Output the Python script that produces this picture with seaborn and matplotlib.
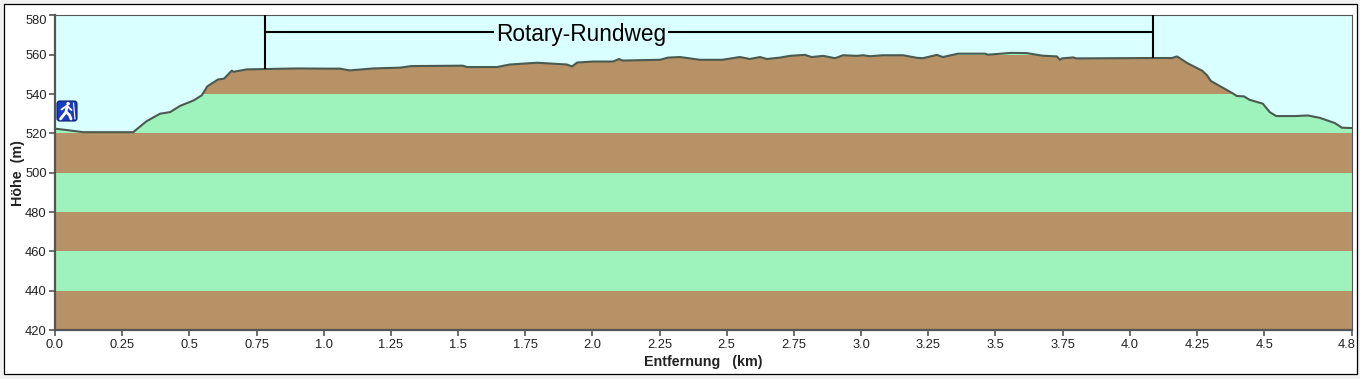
import numpy as np
import pandas as pd
import matplotlib
matplotlib.use('Agg')
import matplotlib.pyplot as plt
from matplotlib.patches import Rectangle, FancyBboxPatch
from matplotlib.transforms import ScaledTranslation
import seaborn as sns

# Hoehenprofil
dist_km = [0.0, 0.05, 0.106, 0.201, 0.292, 0.298, 0.341, 0.391, 0.428, 0.466, 0.515, 0.546, 0.567, 0.607,
           0.629, 0.658, 0.664, 0.713, 0.784, 0.905, 1.006, 1.061, 1.096, 1.184, 1.284, 1.327, 1.518, 1.533, 1.645,
           1.693, 1.794, 1.905, 1.924, 1.943, 2.001, 2.077, 2.099, 2.112, 2.252, 2.281, 2.326, 2.400,
           2.484, 2.549, 2.586, 2.624, 2.649, 2.698, 2.735, 2.791, 2.816, 2.859, 2.903, 2.933, 2.985,
           3.007, 3.033, 3.081, 3.156, 3.208, 3.230, 3.282, 3.304, 3.361, 3.461, 3.472, 3.560, 3.616,
           3.674, 3.729, 3.740, 3.747, 3.789, 3.801, 4.087, 4.157, 4.176, 4.214, 4.269, 4.287, 4.302,
           4.385, 4.398, 4.425, 4.445, 4.495, 4.521, 4.545, 4.615, 4.663, 4.707, 4.764, 4.789, 4.827]
hoehe_m = [522.4, 521.6, 520.6, 520.6, 520.6, 521.4, 526.2, 530, 530.8, 534, 536.7, 539.3, 543.9, 547.4,
           547.8, 551.9, 551.3, 552.5, 552.7, 553.0, 552.9, 552.9, 552, 553, 553.4, 554.2, 554.4, 553.7, 553.7,
           555, 555.9, 555, 554, 556, 556.5, 556.5, 557.8, 557, 557.4, 558.5, 558.8, 557.4,
           557.4, 558.8, 557.8, 558.8, 557.8, 558.5, 559.4, 559.9, 558.8, 559.4, 558.2, 559.7, 559.4,
           559.7, 559.2, 559.7, 559.7, 558.4, 558.2, 559.9, 558.8, 560.5, 560.5, 560, 560.9, 560.8,
           559.5, 559.1, 557.4, 558.1, 558.6, 558.1, 558.3, 558.3, 559.1, 555.7, 551.9, 549.6, 546.6,
           540.2, 539, 538.8, 537.1, 535.1, 530.8, 528.8, 528.8, 529.1, 527.9, 525.2, 522.9, 522.7]

# last tick sits at the true track length, the label rounds it
track_end = 4.827
x_ticks = [0.0, 0.25, 0.5, 0.75, 1.0, 1.25, 1.5, 1.75, 2.0, 2.25, 2.5, 2.75, 3.0, 3.25, 3.5, 3.75, 4.0, 4.25, 4.5, track_end]
x_labels = ['0.0', '0.25', '0.5', '0.75', '1.0', '1.25', '1.5', '1.75', '2.0', '2.25', '2.5', '2.75',
            '3.0', '3.25', '3.5', '3.75', '4.0', '4.25', '4.5', '4.8']
y_ticks = [420, 440, 460, 480, 500, 520, 540, 560, 580]
route_name = 'Rotary-Rundweg'
route_start = 0.781
route_end = 4.087
route_level = 571.3
route_label_x = 1.958

brown = '#B79266'
green = '#9EF3BC'
sky = '#D9FFFF'
edge = '#555555'

sns.set_theme(style='white')
plt.rcParams['font.family'] = ['Liberation Sans', 'DejaVu Sans']

W, H = 1360, 379
fig = plt.figure(figsize=(W / 100, H / 100), dpi=100, facecolor='#F1F1F1')


def fig_box(x0, y0, x1, y1):
    # pixel box (top-left origin) to figure fractions
    return [x0 / W, 1 - y1 / H, (x1 - x0) / W, (y1 - y0) / H]


# white panel with black frame, behind the axes
b = fig_box(3.5, 3.5, 1357, 374)
fig.add_artist(Rectangle((b[0], b[1]), b[2], b[3], transform=fig.transFigure,
                         facecolor='white', edgecolor='black', linewidth=0.9, zorder=-1))

ax = fig.add_axes(fig_box(55, 15.3, 1352, 330.2))
ax.set_facecolor(sky)

df = pd.DataFrame({'km': dist_km, 'hoehe': hoehe_m})

# terrain outline is only used as clip for the stripes
area = ax.fill_between(df['km'], 420, df['hoehe'], facecolor='none', edgecolor='none')
for i, low in enumerate(y_ticks[:-1]):
    band = ax.axhspan(low, y_ticks[i + 1], facecolor=brown if i % 2 == 0 else green,
                      edgecolor='none', zorder=1)
    band.set_clip_path(area.get_paths()[0], ax.transData)

sns.lineplot(data=df, x='km', y='hoehe', ax=ax, color='#4A5A50', linewidth=1.5,
             estimator=None, sort=False, zorder=3)

# route bracket
ax.plot([route_start, route_start], [552.7, 580], color='black', lw=1.5, zorder=4, solid_capstyle='butt')
ax.plot([route_end, route_end], [558.3, 580], color='black', lw=1.5, zorder=4, solid_capstyle='butt')
ax.plot([route_start, route_end], [route_level, route_level], color='black', lw=1.5, zorder=4)
ax.text(route_label_x, route_level - 0.9, route_name, ha='center', va='center',
        fontsize=16.3, color='black', zorder=5,
        bbox=dict(facecolor=sky, edgecolor='none', pad=1.5))

ax.set_xlim(0, track_end)
ax.set_ylim(420, 580)
ax.set_xticks(x_ticks)
ax.set_xticklabels(x_labels)
ax.set_yticks(y_ticks)
ax.tick_params(axis='both', length=4, width=1.2, color=edge, labelsize=9.3, labelcolor='#222222', pad=2,
               bottom=True, left=True)
for side, lw in [('left', 1.6), ('bottom', 1.6), ('top', 0.8), ('right', 0.8)]:
    ax.spines[side].set_color(edge)
    ax.spines[side].set_linewidth(lw)

# end labels are pulled inwards
last = ax.get_xticklabels()[-1]
last.set_transform(last.get_transform() + ScaledTranslation(-5 / 100, 0, fig.dpi_scale_trans))
top = ax.get_yticklabels()[-1]
top.set_transform(top.get_transform() + ScaledTranslation(0, -4 / 100, fig.dpi_scale_trans))

ax.set_xlabel('Entfernung   (km)', fontsize=10.3, fontweight='bold', color='#222222', va='center')
ax.xaxis.set_label_coords(0.5, -0.1)
ax.set_ylabel('Höhe  (m)', fontsize=10.3, fontweight='bold', color='#222222', va='center')
ax.yaxis.set_label_coords(-0.0285, 0.5)

# hiker icon
b = fig_box(57, 101, 77, 121)
fig.add_artist(FancyBboxPatch((b[0], b[1]), b[2], b[3], transform=fig.transFigure,
                              boxstyle='round,pad=0,rounding_size=0.002', mutation_aspect=W / H,
                              facecolor='#1A3CC0', edgecolor='#0A1E70', linewidth=0.8, zorder=6))


def stroke(points, lw):
    xs = [p[0] / W for p in points]
    ys = [1 - p[1] / H for p in points]
    fig.add_artist(plt.Line2D(xs, ys, transform=fig.transFigure, color='white', lw=lw,
                              solid_capstyle='round', zorder=7))


stroke([(68, 103.5), (68.2, 103.7)], 2.4)
stroke([(67, 106), (66, 112), (60.5, 119)], 2.0)
stroke([(66, 112), (69.5, 115), (71, 119)], 2.0)
stroke([(66.5, 106), (61.5, 109.5)], 1.3)
stroke([(67, 106), (71.5, 110)], 1.3)
stroke([(73.5, 103), (75, 119)], 0.8)

fig.savefig('out.png', dpi=100, facecolor=fig.get_facecolor())
